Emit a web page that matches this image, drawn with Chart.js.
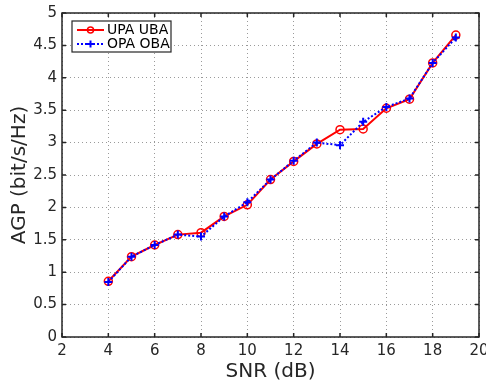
<!DOCTYPE html>
<html>
<head>
<meta charset="utf-8">
<script src="https://cdn.jsdelivr.net/npm/chart.js@4/dist/chart.umd.min.js"></script>
<style>
  html, body { margin: 0; padding: 0; background: #fff; }
  #wrap { width: 486px; height: 387px; }
</style>
</head>
<body>
<div id="wrap"><canvas id="c"></canvas></div>
<script>
// SNR-Werte (dB)
const snr = [4, 5, 6, 7, 8, 9, 10, 11, 12, 13, 14, 15, 16, 17, 18, 19];
const upaUba = [0.86, 1.24, 1.42, 1.58, 1.61, 1.86, 2.04, 2.43, 2.71, 2.98, 3.20, 3.21, 3.53, 3.67, 4.23, 4.66];
const opaOba = [0.85, 1.24, 1.42, 1.58, 1.55, 1.86, 2.08, 2.43, 2.72, 3.00, 2.96, 3.32, 3.55, 3.68, 4.23, 4.62];
const xTicks = [2, 4, 6, 8, 10, 12, 14, 16, 18, 20];
const yTicks = [0, 0.5, 1, 1.5, 2, 2.5, 3, 3.5, 4, 4.5, 5];

const axisColor = '#262626';
const fontFam = 'DejaVu Sans, sans-serif';

const toXY = (ys) => snr.map((x, i) => ({ x: x, y: ys[i] }));

// Rahmen, Ticks nach innen + Legende (MATLAB-Stil)
const matlabBox = {
    id: 'matlabBox',
    afterDraw(chart) {
        const { ctx, chartArea: a, scales } = chart;
        ctx.save();
        ctx.strokeStyle = axisColor;
        ctx.lineWidth = 1.5;
        ctx.strokeRect(a.left, a.top, a.right - a.left, a.bottom - a.top);
        ctx.beginPath();
        xTicks.forEach(t => {
            const px = scales.x.getPixelForValue(t);
            ctx.moveTo(px, a.bottom); ctx.lineTo(px, a.bottom - 4);
            ctx.moveTo(px, a.top); ctx.lineTo(px, a.top + 4);
        });
        yTicks.forEach(t => {
            const py = scales.y.getPixelForValue(t);
            ctx.moveTo(a.left, py); ctx.lineTo(a.left + 4, py);
            ctx.moveTo(a.right, py); ctx.lineTo(a.right - 4, py);
        });
        ctx.stroke();

        // Legende
        const lx = a.left + 10, ly = a.top + 8, lw = 99, lh = 31;
        ctx.fillStyle = '#fff';
        ctx.fillRect(lx, ly, lw, lh);
        ctx.lineWidth = 1.2;
        ctx.strokeStyle = axisColor;
        ctx.strokeRect(lx, ly, lw, lh);

        const rows = [
            { label: 'UPA UBA', color: '#ff0000', dash: [], marker: 'circle' },
            { label: 'OPA OBA', color: '#0000ff', dash: [2, 2], marker: 'cross' }
        ];
        rows.forEach((r, i) => {
            const y = ly + 9 + i * 14;
            ctx.strokeStyle = r.color;
            ctx.lineWidth = 2;
            ctx.setLineDash(r.dash);
            ctx.beginPath();
            ctx.moveTo(lx + 5, y); ctx.lineTo(lx + 32, y);
            ctx.stroke();
            ctx.setLineDash([]);
            const mx = lx + 18.5;
            ctx.beginPath();
            if (r.marker === 'circle') {
                ctx.lineWidth = 1.5;
                ctx.arc(mx, y, 3, 0, Math.PI * 2);
            } else {
                ctx.lineWidth = 2;
                ctx.moveTo(mx - 3.5, y); ctx.lineTo(mx + 3.5, y);
                ctx.moveTo(mx, y - 3.5); ctx.lineTo(mx, y + 3.5);
            }
            ctx.stroke();
            ctx.fillStyle = '#000';
            ctx.font = '14px ' + fontFam;
            ctx.textBaseline = 'middle';
            ctx.textAlign = 'left';
            ctx.fillText(r.label, lx + 35, y + 0.5);
        });
        ctx.restore();
    }
};

new Chart(document.getElementById('c'), {
    type: 'line',
    data: {
        datasets: [{
            label: 'UPA UBA',
            data: toXY(upaUba),
            borderColor: '#ff0000',
            backgroundColor: 'rgba(0,0,0,0)',
            borderWidth: 2,
            pointStyle: 'circle',
            pointRadius: 4,
            pointBorderWidth: 1.5,
            pointBorderColor: '#ff0000',
            pointBackgroundColor: 'rgba(0,0,0,0)',
            tension: 0,
            order: 1
        }, {
            label: 'OPA OBA',
            data: toXY(opaOba),
            borderColor: '#0000ff',
            backgroundColor: 'rgba(0,0,0,0)',
            borderWidth: 2,
            borderDash: [2, 2],
            pointStyle: 'cross',
            pointRadius: 4,
            pointBorderWidth: 2,
            pointBorderColor: '#0000ff',
            tension: 0,
            order: 0
        }]
    },
    options: {
        responsive: true,
        maintainAspectRatio: false,
        animation: false,
        layout: { padding: { top: 13, right: 7, left: 0, bottom: 0 } },
        plugins: {
            legend: { display: false },
            tooltip: { enabled: false }
        },
        scales: {
            x: {
                type: 'linear',
                min: 2, max: 20,
                afterBuildTicks: (s) => { s.ticks = xTicks.map(v => ({ value: v })); },
                afterFit: (s) => { s.height = 50; s.paddingLeft = 0; s.paddingRight = 0; },
                grid: {
                    color: '#9a9a9a',
                    lineWidth: 1,
                    drawTicks: false,
                    tickLength: 0
                },
                border: { display: false, dash: [1, 3] },
                ticks: {
                    color: axisColor,
                    padding: 5,
                    maxRotation: 0,
                    font: { family: fontFam, size: 15 },
                    callback: (v) => String(v)
                },
                title: {
                    display: true,
                    text: 'SNR (dB)',
                    color: axisColor,
                    font: { family: fontFam, size: 20 },
                    padding: { top: 0, bottom: 3 }
                }
            },
            y: {
                min: 0, max: 5,
                afterBuildTicks: (s) => { s.ticks = yTicks.map(v => ({ value: v })); },
                afterFit: (s) => { s.width = 62; s.paddingTop = 0; s.paddingBottom = 0; },
                grid: {
                    color: '#9a9a9a',
                    lineWidth: 1,
                    drawTicks: false,
                    tickLength: 0
                },
                border: { display: false, dash: [1, 3] },
                ticks: {
                    color: axisColor,
                    padding: 5,
                    font: { family: fontFam, size: 15 },
                    callback: (v) => String(v)
                },
                title: {
                    display: true,
                    text: 'AGP (bit/s/Hz)',
                    color: axisColor,
                    font: { family: fontFam, size: 20 },
                    padding: { top: 8, bottom: 0 }
                }
            }
        }
    },
    plugins: [matlabBox]
});
</script>
</body>
</html>
